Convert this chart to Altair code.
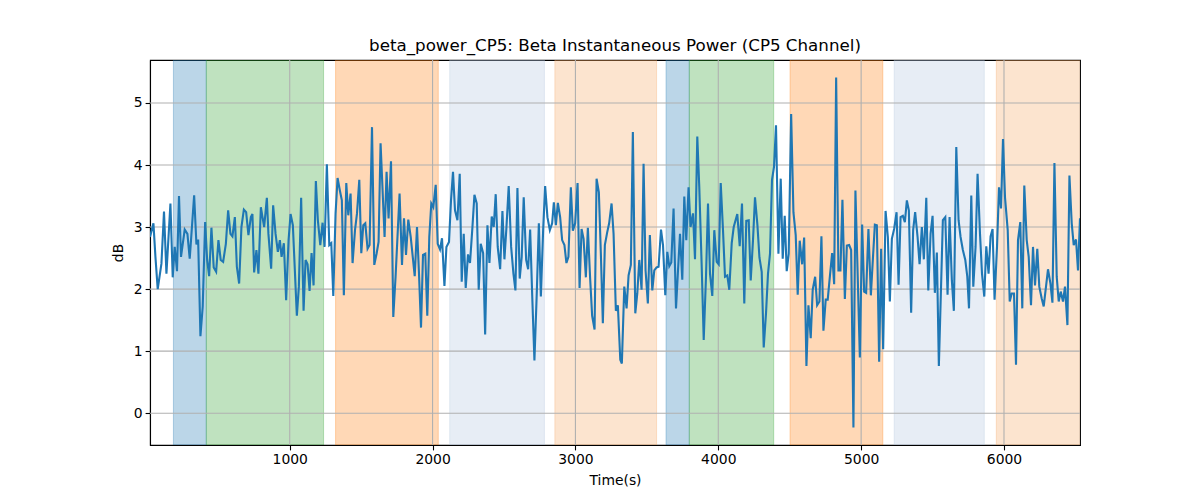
import altair as alt
import pandas as pd

# ---- data ----
time = [22, 46, 60, 76, 102, 120, 137, 165, 181, 195, 211, 225, 239, 265, 284, 300, 331, 347, 359, 375,
        391, 408, 422, 436, 452, 468, 485, 501, 517, 534, 553, 569, 585, 599, 616, 630, 646, 662, 679, 695,
        711, 728, 739, 751, 767, 781, 798, 821, 840,
        851, 870, 884, 901, 917, 931, 943, 959, 975, 992, 1006, 1022, 1050, 1064, 1080, 1097, 1111, 1125, 1139, 1153,
        1167, 1183, 1197, 1214, 1230, 1244, 1260, 1277, 1291, 1305, 1321, 1335, 1351, 1365, 1379, 1396, 1410, 1426, 1440, 1457,
        1471, 1487, 1501, 1515, 1529, 1545, 1559, 1576, 1592, 1608, 1622, 1636,
        1664, 1678, 1692, 1709, 1725, 1741, 1769, 1786, 1800, 1814, 1830, 1847, 1875, 1891, 1905, 1919, 1933, 1949, 1963, 1977,
        1991, 2005, 2022, 2036, 2052, 2066, 2083, 2097, 2115, 2129, 2143, 2157, 2174, 2190, 2204, 2218, 2232, 2248, 2262, 2279,
        2293, 2309, 2323, 2337, 2354, 2368, 2384, 2398, 2414, 2428, 2442, 2456, 2473,
        2489, 2503, 2517, 2533, 2550, 2566, 2580, 2594, 2610, 2624, 2638, 2655, 2669, 2683, 2697, 2713, 2730, 2744, 2758, 2774,
        2788, 2804, 2821, 2837, 2849, 2863, 2877, 2893, 2907, 2923, 2937, 2951, 2968, 2982, 2998, 3015, 3029, 3043, 3057, 3073,
        3087, 3103, 3117, 3134, 3148, 3164, 3178, 3192, 3206, 3222, 3236, 3253, 3267, 3283, 3297,
        3314, 3325, 3342, 3358, 3372, 3388, 3402, 3419, 3433, 3447, 3463, 3477, 3491, 3507, 3521, 3538, 3552, 3568, 3582, 3599,
        3613, 3629, 3643, 3657, 3671, 3687, 3704, 3718, 3732, 3748, 3762, 3776, 3792, 3806, 3823, 3837, 3853, 3867, 3884, 3898,
        3914, 3928, 3942, 3958, 3972, 3989, 4003, 4017, 4033, 4047, 4063, 4077, 4094, 4108,
        4133, 4150, 4166, 4182, 4196, 4213, 4227, 4243, 4257, 4274, 4288, 4304, 4318, 4334, 4348, 4362, 4376, 4390, 4404, 4421,
        4437, 4451, 4465, 4479, 4493, 4510, 4526, 4542, 4556, 4570, 4587, 4601, 4617, 4631, 4647, 4661, 4678, 4692, 4708, 4722,
        4736, 4752, 4766, 4783, 4797, 4811, 4825, 4841, 4855, 4869, 4886, 4900, 4916, 4930,
        4946, 4960, 4991, 5007, 5021, 5035, 5051, 5068, 5082, 5096, 5110, 5126, 5140, 5154, 5171, 5187, 5201, 5215, 5231, 5248,
        5262, 5276, 5292, 5306, 5320, 5334, 5350, 5364, 5378, 5395, 5409, 5425, 5439, 5456, 5470, 5486, 5500, 5516, 5530, 5544,
        5558, 5572, 5589, 5605, 5619, 5635, 5649, 5666, 5682, 5696, 5712, 5729, 5743, 5755,
        5771, 5785, 5801, 5815, 5832, 5846, 5862, 5876, 5892, 5906, 5920, 5934, 5951, 5965, 5979, 5993, 6007, 6026, 6040, 6054,
        6070, 6084, 6098, 6114, 6128, 6142, 6159, 6173, 6189, 6203, 6217, 6233, 6247, 6264, 6278, 6294, 6308, 6325, 6339, 6353,
        6369, 6383, 6397, 6413, 6427, 6444, 6458, 6474, 6488, 6504, 6518, 6532]

db = [2.84, 3.06, 2.52, 2.00, 2.41, 3.25, 2.25, 3.38, 2.19, 2.68, 2.29, 3.50, 2.52, 2.96, 2.89, 2.49, 3.51, 2.72, 2.80, 1.24,
      1.72, 3.08, 2.47, 2.21, 2.99, 2.35, 2.28, 2.79, 2.47, 2.44, 2.73, 3.27, 2.89, 2.85, 3.16, 2.36, 2.09, 3.00, 3.28, 3.24,
      2.87, 3.16, 3.21, 2.27, 2.63, 2.25, 3.32, 3.00, 3.47,
      2.89, 2.33, 3.35, 2.89, 2.60, 2.79, 2.52, 2.74, 1.82, 2.79, 3.21, 3.03, 1.57, 2.04, 3.47, 1.65, 2.47, 2.40, 1.97, 2.58,
      2.06, 3.74, 3.11, 2.71, 3.07, 2.68, 4.01, 2.71, 2.74, 1.89, 3.22, 3.79, 3.59, 3.43, 1.90, 3.71, 3.19, 3.54, 2.42, 2.95,
      3.22, 3.76, 2.58, 3.03, 3.06, 2.65, 2.71, 4.61, 2.39, 2.57, 2.76, 4.35,
      2.84, 3.89, 3.14, 4.06, 1.55, 2.20, 3.54, 2.39, 3.14, 2.55, 3.12, 2.84, 2.21, 3.00, 2.25, 1.38, 2.55, 2.57, 1.57, 2.84,
      3.38, 3.32, 3.68, 2.73, 2.64, 2.82, 2.05, 2.68, 2.76, 3.43, 3.89, 3.27, 3.11, 3.86, 2.12, 2.89, 2.02, 2.56, 2.42, 3.00,
      3.52, 3.38, 1.99, 2.73, 2.58, 1.27, 3.03, 2.42, 3.17, 3.00, 3.53, 2.68, 2.32,
      3.26, 2.48, 2.99, 3.66, 2.68, 2.25, 1.98, 3.63, 2.17, 2.52, 3.48, 2.47, 2.32, 2.96, 1.93, 0.85, 1.98, 3.06, 1.88, 2.95,
      3.66, 3.16, 2.95, 3.06, 3.40, 3.03, 3.39, 3.16, 2.79, 2.71, 2.42, 2.52, 3.64, 2.94, 3.06, 3.71, 2.02, 2.97, 2.81, 2.19,
      2.99, 2.17, 1.57, 1.35, 3.78, 3.56, 2.57, 1.45, 2.71, 2.91, 3.06, 3.38, 2.89, 1.65, 1.74,
      0.86, 0.80, 2.04, 1.69, 2.22, 2.39, 4.53, 1.61, 1.93, 2.47, 1.99, 4.02, 2.30, 1.77, 2.87, 1.98, 2.30, 2.35, 2.36, 2.96,
      2.71, 1.90, 2.60, 2.37, 2.43, 3.30, 1.69, 2.30, 2.89, 2.15, 3.49, 2.79, 3.64, 3.00, 3.22, 2.48, 4.46, 3.64, 2.36, 1.18,
      2.20, 3.38, 2.25, 1.89, 2.95, 2.44, 2.40, 3.71, 2.95, 2.20, 2.22, 1.99, 2.74, 3.00,
      3.21, 2.69, 3.38, 1.77, 3.10, 3.11, 2.14, 2.79, 3.48, 3.03, 2.51, 2.28, 1.06, 1.61, 2.25, 2.57, 3.76, 3.97, 4.64, 2.57,
      3.78, 2.49, 3.18, 2.29, 2.57, 4.82, 3.24, 2.87, 1.91, 2.78, 2.40, 2.83, 0.76, 1.74, 1.21, 1.99, 2.20, 1.74, 1.80, 2.85,
      1.33, 1.83, 1.83, 2.25, 2.58, 2.08, 5.41, 2.30, 2.30, 3.44, 1.84, 2.70, 2.71, 2.63,
      -0.23, 3.59, 0.90, 3.04, 1.96, 1.94, 2.97, 1.90, 2.48, 3.04, 3.03, 0.83, 2.65, 1.03, 3.26, 2.84, 1.80, 2.81, 2.97, 3.24,
      2.07, 3.16, 3.18, 3.08, 3.43, 3.27, 1.62, 2.95, 3.24, 2.84, 2.40, 3.00, 2.48, 3.47, 1.98, 2.89, 3.18, 1.94, 2.59, 0.76,
      1.93, 3.11, 3.16, 1.91, 3.16, 2.14, 1.65, 4.29, 3.11, 2.84, 2.63, 2.47, 2.20, 1.69,
      3.51, 2.04, 2.68, 3.86, 2.89, 2.25, 1.88, 2.69, 2.25, 2.85, 2.97, 1.83, 2.68, 3.64, 3.30, 4.42, 3.48, 2.95, 1.80, 1.93,
      1.93, 0.78, 2.79, 3.08, 1.69, 3.67, 2.79, 2.52, 1.74, 2.68, 2.06, 2.65, 2.04, 1.85, 1.72, 2.04, 2.32, 2.09, 1.78, 4.03,
      2.20, 1.80, 1.96, 1.80, 2.04, 1.42, 3.83, 3.06, 2.71, 2.80, 2.30, 3.14]

span_start = [186, 416, 1321, 2120, 2856, 3634, 3797, 4502, 5231, 5946]
span_end = [416, 1237, 2040, 2783, 3568, 3797, 4388, 5152, 5862, 6540]
span_kind = ["a", "b", "c", "d", "e", "a", "b", "c", "d", "e"]
kind_colors = ["#1f77b4", "#2ca02c", "#ff7f0e", "#b0c4de", "#f4a460"]
kind_alpha = [0.3, 0.3, 0.3, 0.3, 0.25]

x_ticks = [1000, 2000, 3000, 4000, 5000, 6000]
y_ticks = [0, 1, 2, 3, 4, 5]

title_text = "beta_power_CP5: Beta Instantaneous Power (CP5 Channel)"
x_title = "Time(s)"
y_title = "dB"

# ---- build ----
W, H = 930, 385
FONT = "DejaVu Sans"

line_df = pd.DataFrame({"t": time, "v": db})
span_df = pd.DataFrame({"s": span_start, "e": span_end, "k": span_kind})
xt_df = pd.DataFrame({"t": x_ticks})
yt_df = pd.DataFrame({"v": y_ticks})

lo, hi = min(db), max(db)
pad = 0.05 * (hi - lo)
x_dom = [time[0], time[-1]]
y_dom = [lo - pad, hi + pad]

x_axis = alt.Axis(values=x_ticks, format="d", grid=False, title=x_title)
y_axis = alt.Axis(values=y_ticks, format="d", grid=False, title=y_title)
xs = alt.Scale(domain=x_dom, nice=False, zero=False)
ys = alt.Scale(domain=y_dom, nice=False, zero=False)
kinds = ["a", "b", "c", "d", "e"]

spans = alt.Chart(span_df).mark_rect(clip=True, strokeWidth=1).encode(
    x=alt.X("s:Q", scale=xs, axis=x_axis),
    x2="e:Q",
    y=alt.value(0),
    y2=alt.value(H),
    fill=alt.Fill("k:N", scale=alt.Scale(domain=kinds, range=kind_colors), legend=None),
    stroke=alt.Stroke("k:N", scale=alt.Scale(domain=kinds, range=kind_colors), legend=None),
    fillOpacity=alt.FillOpacity("k:N", scale=alt.Scale(domain=kinds, range=kind_alpha), legend=None),
    strokeOpacity=alt.StrokeOpacity("k:N", scale=alt.Scale(domain=kinds, range=kind_alpha), legend=None),
)

xgrid = alt.Chart(xt_df).mark_rule(color="#b0b0b0", strokeWidth=1.1).encode(
    x=alt.X("t:Q", scale=xs, axis=x_axis)
)
ygrid = alt.Chart(yt_df).mark_rule(color="#b0b0b0", strokeWidth=1.1).encode(
    y=alt.Y("v:Q", scale=ys, axis=y_axis)
)

line = alt.Chart(line_df).mark_line(color="#1f77b4", strokeWidth=2.1, clip=True).encode(
    x=alt.X("t:Q", scale=xs, axis=x_axis),
    y=alt.Y("v:Q", scale=ys, axis=y_axis),
)

chart = alt.layer(spans, xgrid, ygrid, line).properties(
    width=W,
    height=H,
    title=alt.TitleParams(title_text, font=FONT, fontSize=16.7, fontWeight="normal",
                          anchor="middle", frame="group", offset=5, color="black"),
    autosize=alt.AutoSizeParams(type="none"),
    padding={"left": 142, "top": 52, "right": 112, "bottom": 47},
).configure_view(
    stroke="black", strokeWidth=1.1
).configure_axis(
    labelFont=FONT, labelFontSize=13.9, labelColor="black",
    titleFont=FONT, titleFontSize=13.9, titleFontWeight="normal", titleColor="black",
    tickColor="black", tickSize=4.9, tickWidth=1.1,
    domainColor="black", domainWidth=1.1, labelPadding=3,
).configure_axisX(titlePadding=7).configure_axisY(titlePadding=8)

chart.save("out.html", embed_options={"renderer": "svg", "actions": False})
